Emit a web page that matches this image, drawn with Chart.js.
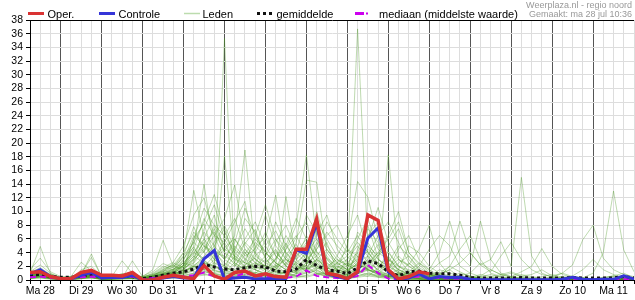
<!DOCTYPE html>
<html>
<head>
<meta charset="utf-8">
<script src="https://cdn.jsdelivr.net/npm/chart.js@4.4.1/dist/chart.umd.min.js"></script>
<style>
html, body { margin: 0; padding: 0; background: #fff; }
</style>
</head>
<body>
<canvas id="pluim" width="635" height="300"></canvas>
<script>
// 6-uurlijkse neerslag (mm), eerste punt = ma 28 06:00
const dagen = ['Ma 28', 'Di 29', 'Wo 30', 'Do 31', 'Vr 1', 'Za 2', 'Zo 3', 'Ma 4', 'Di 5', 'Wo 6', 'Do 7', 'Vr 8', 'Za 9', 'Zo 10', 'Ma 11'];
const startUur = 6;
const stapUur = 6;

const oper = [1.1, 1.2, 0.5, 0.2, 0.2, 1.1, 1.4, 0.7, 0.7, 0.6, 1.1, 0, 0, 0.4, 0.7, 0.4, 0.2, 2.1, 0.6, 0.1,
  1.1, 1.3, 0.6, 0.9, 0.5, 0.4, 4.5, 4.5, 8.9, 1.0, 0.7, 0.2, 1.2, 9.5, 8.7, 1.5, 0.15, 0.5, 1.2, 0.9];

const controle = [0.9, 1.5, 0.5, 0.2, 0.2, 0.7, 1.1, 0.3, 0.4, 0.35, 0.7, 0, 0.1, 0.3, 0.5, 0.3, 0.3, 3.1, 4.3, 0.1,
  0.3, 0.4, 0.15, 0.2, 0.15, 0.2, 4.4, 3.9, 8.3, 0.9, 0.5, 0.15, 1.1, 6.1, 7.6, 1.2, 0, 0.3, 0.9, 0.15,
  0.5, 0.35, 0.4, 0.1, 0.05, 0.05, 0.05, 0.05, 0.05, 0.05, 0.05, 0.05, 0.1, 0.4, 0.1, 0.05, 0.1, 0.1, 0.6, 0.15];

const gemiddelde = [0.7, 0.8, 0.5, 0.4, 0.4, 0.6, 0.8, 0.5, 0.4, 0.5, 0.5, 0.2, 0.4, 0.7, 1.0, 1.2, 1.6, 2.3, 1.9, 1.6,
  1.5, 1.8, 2.0, 1.9, 1.3, 1.2, 1.6, 3.0, 2.1, 1.5, 1.3, 0.9, 1.8, 2.8, 2.4, 1.2, 0.6, 1.2, 1.3, 1.0,
  0.9, 0.9, 0.7, 0.35, 0.3, 0.3, 0.3, 0.3, 0.35, 0.3, 0.3, 0.3, 0.3, 0.35, 0.3, 0.3, 0.3, 0.3, 0.5, 0.3];

const mediaan = [0.4, 0.5, 0.3, 0.2, 0.2, 0.4, 0.5, 0.3, 0.3, 0.4, 0.5, 0.1, 0.3, 0.4, 0.5, 0.5, 0.7, 1.1, 0.5, 0.2,
  0.5, 1.0, 0.6, 0.5, 0.3, 0.3, 0.5, 1.4, 0.6, 0.4, 0.3, 0.2, 0.6, 2.2, 1.0, 0.2, 0.1, 0.4, 0.5, 0.3,
  0.3, 0.2, 0.2, 0.05, 0.05, 0.05, 0.05, 0.05, 0.05, 0.05, 0.05, 0.05, 0.05, 0.05, 0.05, 0.05, 0.05, 0.05, 0.1, 0.05];

const leden = [
  [0.8,1.2,0.5, 0.2,0.1,0.6,0.9, 0.3,0.2,0.4,0.6, 0.1,0.3,0.8,1.2, 2.1,4.5,3.0,1.2, 35.3,2.0,4.1,1.5, 0.8,2.2,1.0,3.4, 5.2,2.1,0.6,1.8, 2.5,4.0,1.2,0.4, 0.6,1.1,0.3,0.2, 0.1,0,0.2,0.5, 0.1,0,0,0.3, 0.2,0,0,0.1, 0,0,0.2,0, 0,0.1,0,0.3, 0],
  [0.5,0.9,0.3, 0.1,0.2,0.9,3.3, 0.5,0.3,0.2,0.4, 0.2,0.6,1.5,2.2, 1.3,6.1,8.2,3.5, 1.0,2.6,5.3,7.4, 3.2,1.1,0.5,2.8, 6.5,4.2,1.5,0.8, 3.1,36.7,5.0,2.3, 1.4,0.8,0.5,0.3, 0.2,0.6,0.1,0, 0,0.2,0,0, 0.1,0,0,0.2, 0,0,0,0.1, 0,0,0.2,0, 0],
  [1.2,2.2,1.0, 0.3,0.5,1.1,0.8, 0.2,0.6,0.9,0.5, 0.4,1.0,2.0,1.5, 3.5,7.8,4.0,2.5, 18.1,3.0,1.8,0.9, 2.5,4.3,2.0,1.2, 3.8,1.5,0.7,2.0, 1.5,2.8,4.2,2.0, 18.3,3.1,1.2,0.5, 0.3,0.8,1.5,0.4, 0.1,0,0.3,0, 0,0.2,0.1,0, 0,0.1,0,0, 0,0,0,0.2, 0],
  [0.6,1.0,0.4, 0.2,0.3,0.7,1.0, 0.4,0.5,0.3,0.8, 0.3,0.5,0.8,0.6, 1.5,3.2,5.5,7.0, 4.2,6.5,19.0,4.0, 1.5,3.2,5.4,2.3, 1.2,3.0,2.1,0.6, 1.0,1.8,3.0,5.2, 2.4,1.0,0.6,0.8, 0.4,0.2,0,0.1, 0,0,0.1,0, 0.3,0,0,0, 0.1,0,0,0, 0,0,0,0, 0],
  [1.5,3.2,1.2, 0.5,0.4,0.8,0.5, 0.2,0.3,0.5,0.3, 0.6,1.2,2.4,1.8, 4.0,13.1,6.2,2.0, 1.5,5.0,3.1,2.2, 6.0,12.4,3.5,1.0, 2.2,5.5,3.1,1.2, 2.5,1.0,0.5,1.8, 3.5,1.2,0.4,0.2, 0.5,0.2,0.1,0, 0.3,0.1,0,0, 0,0.4,0,0, 0,0,0.1,0, 0.2,0,0,0, 0],
  [0.9,1.6,0.7, 0.2,0.1,1.5,2.0, 0.6,0.4,0.8,1.2, 0.2,0.4,1.0,0.9, 2.2,5.0,14.0,4.5, 2.0,1.2,3.8,6.0, 4.2,2.0,12.2,3.0, 1.5,2.5,1.0,0.5, 0.8,4.5,8.0,3.2, 1.2,0.6,2.5,1.3, 0.8,0.3,0.2,0, 0.1,0,0,0.2, 0,0,0.2,0, 0,0,0,0, 0.1,0,0,0, 0],
  [0.4,0.7,0.3, 0.1,0.2,0.4,0.6, 0.3,0.2,0.4,0.3, 0.5,0.8,1.2,2.5, 1.8,2.5,4.2,6.5, 9.0,13.9,5.2,3.0, 2.0,1.5,4.5,8.0, 18.3,6.0,2.5,1.5, 2.0,3.5,1.5,0.8, 0.5,1.0,0.4,0.2, 0.1,0,0,0.3, 0.5,0.2,0,0, 0,0,0.1,0, 0,0,0,0.1, 0,0,0,0, 0],
  [0.7,1.1,0.6, 0.3,0.2,0.5,0.8, 0.1,0.2,0.6,0.9, 0.2,0.3,0.6,1.0, 2.6,4.0,3.1,5.0, 7.5,3.2,2.0,4.8, 6.2,3.5,2.2,5.5, 14.6,14.3,4.0,2.2, 3.0,5.0,2.5,1.5, 4.2,2.0,1.0,0.5, 0.2,0.1,0,0, 0,0,0,0, 0.2,0.1,0,0, 0,0,0,0, 0,0,0.1,0.3, 0],
  [0.3,0.6,0.2, 0.1,0.3,1.0,1.2, 0.4,0.5,2.8,1.0, 0.3,0.5,0.8,1.1, 1.0,2.5,6.0,9.5, 4.0,2.2,1.5,3.5, 5.0,7.2,4.0,2.0, 3.0,1.2,0.8,1.5, 5.2,14.4,12.1,6.0, 2.5,1.5,0.8,0.4, 0.3,0.1,0,0, 0,0.1,0,0, 0,0,0,0, 0,0,0,0, 0,0,0,0, 0],
  [0.5,0.8,0.4, 0.2,0.1,0.3,0.5, 0.2,0.1,0.3,2.8, 0.5,0.7,1.3,1.6, 2.0,3.0,7.5,11.0, 6.0,3.5,2.5,2.0, 1.5,3.0,6.5,4.0, 2.5,3.5,5.5,1.2, 1.8,3.2,6.0,10.6, 5.5,3.0,2.2,4.5, 8.0,2.5,0.6,0.2, 0.1,0,0,0, 0,0,0,0, 0,0,0.1,0, 0,0,0,0, 0],
  [0.6,0.9,0.5, 0.3,0.2,0.6,0.7, 0.3,0.3,0.5,0.6, 0.1,0.2,0.5,0.9, 1.2,2.0,3.5,5.5, 8.0,4.5,3.0,1.5, 0.8,1.5,3.5,6.2, 8.5,4.0,3.2,2.0, 1.2,2.5,3.5,2.0, 1.5,4.5,6.5,3.0, 1.5,4.0,8.6,3.5, 2.0,8.6,3.0,1.0, 0.5,0.2,0,0, 0.1,0,0,0, 0,0,0,0, 0],
  [0.2,0.5,0.3, 0.1,0.2,0.3,0.5, 0.2,0.3,0.2,0.4, 0.5,1.5,5.8,2.0, 1.5,4.5,9.0,6.5, 5.5,8.5,11.5,3.5, 2.5,4.0,2.5,1.5, 2.2,6.8,9.5,4.5, 2.5,1.8,2.2,4.0, 6.0,8.5,4.0,2.5, 1.2,2.5,3.5,8.6, 4.0,2.2,3.0,5.6, 2.0,15.0,3.5,1.0, 0.4,0.2,0.5,0.3, 0.2,0.1,0,0, 0],
  [0.8,1.3,0.6, 0.2,0.3,0.8,3.8, 0.4,0.3,0.7,0.5, 0.2,0.4,0.9,1.4, 3.0,5.5,4.0,8.0, 6.5,4.0,9.0,7.0, 3.0,1.8,1.0,2.5, 4.0,8.8,6.0,3.5, 2.0,6.0,9.0,4.5, 3.2,1.5,1.0,0.8, 0.5,1.5,1.0,0.6, 0.4,0.3,0.5,0.8, 1.2,0.6,0.8,1.5, 0.6,1.0,2.2,5.9, 8.0,3.2,1.5,0.8, 0.5],
  [0.4,0.6,0.4, 0.2,0.1,0.2,0.4, 0.1,0.2,0.4,0.5, 0.3,0.6,0.8,1.2, 1.5,2.8,5.0,3.5, 4.8,6.0,3.5,4.5, 9.5,5.0,3.0,2.0, 1.5,4.5,6.5,8.0, 4.5,2.5,1.5,1.2, 2.5,5.0,3.5,1.8, 1.0,0.8,0.5,0.3, 0.2,0.5,0.8,0.4, 0.2,0.3,0.2,0.5, 0.8,0.4,0.2,0.3, 1.0,4.0,13.0,4.4, 1.2],
  [0.6,1.0,0.5, 0.3,0.2,0.5,0.6, 0.2,0.2,0.4,0.3, 0.2,0.3,0.7,1.0, 2.0,6.0,10.5,8.0, 5.0,3.0,2.5,6.5, 11.0,6.0,3.0,1.5, 2.0,3.0,1.8,1.0, 1.5,7.0,5.5,3.0, 2.0,1.2,0.8,2.0, 4.5,6.5,5.0,2.0, 1.0,2.5,1.5,0.8, 0.5,1.2,2.0,4.6, 2.0,0.8,0.4,0.2, 0.2,0.4,0.6,1.0, 0.3],
  [0.9,1.4,0.8, 0.4,0.5,2.6,1.3, 0.5,0.6,0.8,0.7, 0.3,0.8,1.6,2.2, 4.0,7.0,5.0,3.0, 2.0,4.5,7.5,5.0, 3.5,8.5,5.0,3.0, 4.5,2.5,1.5,3.5, 6.5,9.5,4.0,2.0, 1.0,2.5,3.5,1.5, 0.8,0.5,0.3,0.6, 1.0,0.5,0.3,0.2, 0.4,0.8,0.5,0.3, 0.2,0.5,0.3,0.2, 0.1,0.3,0.5,0.2, 0.1],
  [0.3,0.4,0.2, 0.1,0,0.2,0.3, 0.1,0.1,0.2,0.2, 0.1,0.2,0.5,0.6, 0.8,1.5,2.0,3.5, 5.5,2.5,1.5,0.8, 0.6,1.2,2.5,4.0, 6.0,3.5,1.2,0.6, 0.8,1.5,2.8,1.5, 0.8,0.4,0.3,0.2, 0.1,0.2,0.4,0.2, 0.1,0,0,0.1, 0,0.2,0,0, 0,0.1,0,0, 0,0,0.1,0, 0],
  [1.0,4.9,0.9, 0.3,0.4,1.2,1.5, 0.6,0.5,0.9,0.8, 0.4,0.9,1.8,2.6, 5.0,9.5,12.0,6.5, 3.0,2.0,4.5,3.0, 2.0,1.5,3.2,5.2, 3.0,7.5,4.5,2.5, 1.5,2.2,6.5,8.5, 4.0,2.0,1.2,0.8, 0.4,0.3,0.2,0.1, 0,0.1,0.2,0, 0,0,0.1,0, 0.2,0.3,0.1,0, 0,0,0,0.2, 0],
  [0.5,0.8,0.4, 0.2,0.3,0.4,0.6, 0.3,0.4,0.4,0.6, 0.2,0.4,0.6,0.8, 1.0,2.2,3.0,4.5, 3.0,5.5,10.5,6.5, 4.0,2.5,1.5,1.0, 3.2,10.0,5.0,3.0, 2.0,3.0,5.0,3.5, 6.5,10.0,4.0,2.2, 1.0,0.6,0.3,0.2, 0.3,0.1,0,0, 0,0,0,0.1, 0,0,0,0, 0.1,0,0,0, 0],
  [0.7,1.2,0.5, 0.3,0.2,0.7,0.9, 0.4,0.3,0.5,0.4, 0.2,0.6,1.2,1.9, 3.2,4.8,2.5,1.5, 6.5,9.0,4.5,2.5, 1.5,5.5,8.0,4.5, 3.0,4.5,7.0,5.0, 3.5,5.5,3.5,1.2, 0.8,1.5,5.0,4.0, 2.0,1.0,0.6,0.3, 0.1,0.2,0.1,0, 0,0,0.3,0.2, 0,0,0,0.1, 0,0,0,0, 0],
  [0.2,0.3,0.1, 0,0.1,0.3,0.4, 0.1,0.2,0.2,0.3, 0.1,0.2,0.4,0.5, 0.6,1.0,1.5,2.5, 1.8,1.2,2.2,3.2, 1.5,0.8,1.2,2.0, 1.5,2.8,1.5,0.8, 0.5,1.2,2.0,1.0, 0.6,0.3,0.2,0.1, 0,0,0.1,0, 0,0,0,0, 0,0,0,0, 0,0,0,0, 0,0,0,0, 0],
  [1.1,1.8,0.8, 0.4,0.3,0.8,1.0, 0.3,0.4,0.6,0.5, 0.3,0.7,1.4,2.0, 3.5,5.5,8.5,12.5, 7.0,4.0,2.5,1.8, 3.0,4.5,2.0,1.2, 2.5,5.0,8.5,6.0, 4.0,6.5,4.0,2.5, 1.8,3.0,2.0,1.2, 0.8,0.5,2.0,4.5, 6.5,3.0,1.0,0.5, 0.3,0.2,0.1,0, 0,0.2,0.5,0.3, 0.1,0,0,0, 0],
  [0.6,0.8,0.5, 0.2,0.2,0.4,0.5, 0.2,0.3,0.3,0.4, 0.2,0.5,0.9,1.3, 2.5,4.0,6.0,4.0, 3.5,2.5,1.5,4.0, 7.0,3.5,2.0,4.0, 9.5,7.0,3.0,1.5, 1.0,4.0,7.5,5.5, 3.0,1.5,0.8,0.5, 0.3,0.2,0.2,0.1, 0.2,0.6,1.5,0.8, 0.4,0.2,0.1,0, 0,0,0.1,0, 0,0.2,0.3,0.1, 0],
  [0.3,0.5,0.3, 0.1,0.2,0.3,0.3, 0.1,0.2,0.3,0.2, 0.3,0.4,0.6,0.9, 1.5,3.0,4.5,7.5, 4.0,3.0,5.5,4.0, 2.5,1.8,4.5,6.5, 3.5,2.0,1.5,2.5, 4.5,3.5,2.0,1.0, 0.6,0.4,1.2,2.5, 1.5,0.6,0.3,0.2, 0.1,0,0.2,0.1, 0,0,0,0, 0.1,0,0,0, 0,0,0,0.1, 0],
  [0.8,1.5,0.7, 0.3,0.4,0.9,1.2, 0.5,0.4,0.7,1.0, 0.4,0.6,1.1,1.5, 2.8,6.5,5.0,4.0, 2.5,1.5,3.0,5.5, 4.0,2.5,1.5,3.5, 5.5,3.5,2.0,3.0, 2.2,1.2,3.5,6.5, 8.5,5.5,2.5,1.0, 0.6,0.3,0.2,0.1, 0,0,0.1,0, 0,0,0,0, 0,0,0,0, 0,0.1,0.2,0.4, 0.2],
  [0.4,0.6,0.3, 0.2,0.1,0.5,0.7, 0.2,0.3,0.4,0.5, 0.2,0.3,0.7,1.1, 1.8,3.5,5.5,3.0, 2.0,1.2,0.8,2.0, 3.5,6.0,4.0,2.5, 2.0,1.0,0.8,2.5, 3.5,2.0,1.5,1.0, 2.0,3.5,2.0,1.0, 0.6,0.8,1.5,2.5, 4.0,2.2,1.2,3.5, 5.5,3.0,1.5,0.8, 0.5,0.3,0.6,1.5, 3.0,1.5,0.8,0.4, 0.2],
  [0.7,1.0,0.5, 0.2,0.3,0.6,0.8, 0.3,0.2,0.5,0.6, 0.3,0.5,0.8,1.2, 2.2,3.8,7.0,5.0, 3.0,6.0,4.0,2.5, 1.5,3.0,5.0,9.0, 6.0,3.0,1.8,1.2, 0.8,1.5,2.5,4.0, 3.0,2.0,1.5,1.0, 0.5,1.0,2.0,1.2, 0.5,0.3,0.2,0.1, 0.2,0.5,0.3,0.2, 0.4,1.0,0.5,0.3, 0.2,0.1,0,0, 0],
  [0.5,0.7,0.4, 0.2,0.2,0.5,0.7, 0.3,0.3,0.4,0.4, 0.3,0.5,1.0,1.6, 2.5,2.0,1.5,3.0, 4.5,3.5,2.0,1.5, 1.0,2.0,3.0,2.2, 4.0,6.0,3.5,1.5, 1.2,2.5,4.5,3.0, 2.0,1.0,0.6,0.4, 0.3,0.2,0.5,1.0, 0.6,0.3,0.2,0.6, 1.0,0.5,0.2,0.1, 0,0.2,0.4,0.2, 0.1,0.3,0.6,0.3, 0.1],
  [0.9,1.3,0.6, 0.3,0.3,0.6,0.9, 0.4,0.4,0.6,0.7, 0.2,0.6,1.0,1.4, 2.0,3.5,2.5,2.0, 1.5,3.5,6.0,8.5, 5.0,2.5,1.5,1.0, 1.8,3.0,4.5,2.5, 1.5,1.0,2.0,3.5, 5.0,7.5,3.0,1.5, 0.8,0.5,0.3,0.2, 0.4,0.8,0.5,0.2, 0.1,0,0,0.2, 0.4,0.2,0,0, 0,0,0,0, 0],
  [0.4,0.5,0.3, 0.1,0.2,0.3,0.5, 0.2,0.2,0.3,0.3, 0.2,0.3,0.5,0.8, 1.2,2.0,2.8,2.0, 1.5,1.0,1.8,2.5, 2.0,1.2,0.8,1.5, 2.5,1.8,1.0,0.6, 0.5,1.0,1.8,1.2, 0.8,0.5,0.3,0.2, 0.1,0,0,0, 0.1,0.2,0.1,0, 0,0,0,0, 0,0,0,0, 0,0,0,0, 0],
  [0.3,0.5,0.2, 0.1,0.1,0.3,0.4, 0.1,0.1,0.2,0.2, 0,0.1,0.3,0.4, 0.5,0.8,1.2,0.9, 0.6,0.4,0.8,1.1, 0.7,0.5,0.3,0.6, 1.0,1.4,0.8,0.4, 0.3,0.6,1.0,0.7, 0.4,0.3,0.2,0.1, 0,0,0,0, 0,0,0,0, 0,0,0,0, 0,0,0,0, 0,0,0,0, 0],
  [0.5,0.7,0.4, 0.2,0.2,0.4,0.6, 0.2,0.2,0.3,0.4, 0.1,0.2,0.4,0.6, 0.9,1.3,0.8,0.5, 0.3,0.6,1.2,0.9, 0.5,0.3,0.7,1.3, 1.8,1.0,0.6,0.3, 0.5,0.9,1.5,1.1, 0.6,0.4,0.3,0.5, 0.3,0.2,0.1,0, 0,0.1,0,0, 0,0,0,0, 0.1,0,0,0, 0,0,0,0.1, 0],
  [0.2,0.3,0.2, 0,0,0.2,0.3, 0.1,0,0.1,0.2, 0,0,0.2,0.3, 0.4,0.6,0.9,1.5, 1.0,0.7,0.5,0.4, 0.3,0.8,1.1,0.6, 0.4,0.8,1.2,0.9, 0.6,1.3,0.8,0.5, 0.3,0.2,0.1,0, 0,0,0,0, 0,0,0,0, 0,0,0,0, 0,0,0,0, 0,0,0,0, 0],
  [0.9,1.1,0.6, 0.3,0.2,0.5,0.9, 0.4,0.3,0.4,0.6, 0.1,0.3,0.5,0.8, 1.0,1.6,2.2,1.4, 0.8,1.1,1.6,2.0, 1.2,0.6,0.4,0.9, 1.5,2.2,1.4,0.8, 0.5,1.0,1.7,2.5, 1.3,0.7,0.5,0.8, 0.6,0.4,0.2,0.1, 0,0,0.1,0.2, 0.1,0,0,0, 0,0,0,0, 0,0,0,0, 0],
  [0.4,0.6,0.3, 0.1,0.1,0.3,0.5, 0.2,0.2,0.3,0.3, 0.1,0.2,0.3,0.5, 0.7,1.0,1.3,1.0, 0.7,0.5,0.6,0.8, 0.5,0.4,0.6,0.9, 1.2,0.9,0.5,0.3, 0.2,0.5,0.9,0.6, 0.4,0.2,0.1,0.2, 0.1,0,0,0, 0,0,0,0, 0,0,0,0, 0,0,0,0, 0,0,0,0, 0],
  [0.6,0.9,0.5, 0.2,0.3,0.6,0.7, 0.3,0.3,0.5,0.5, 0.2,0.3,0.6,0.9, 1.4,2.0,1.5,0.9, 0.5,0.9,1.4,1.1, 0.8,1.3,0.9,0.5, 0.7,1.6,2.4,1.2, 0.7,1.1,1.4,0.9, 0.5,0.8,1.0,0.6, 0.3,0.2,0.1,0.1, 0,0,0,0, 0,0.1,0,0, 0,0,0,0, 0,0,0,0, 0],
  [0.3,0.4,0.2, 0.1,0.2,0.5,0.6, 0.2,0.1,0.2,0.3, 0,0.1,0.2,0.3, 0.3,0.5,0.7,1.1, 1.4,0.9,0.6,0.4, 0.2,0.4,0.5,0.3, 0.6,0.9,0.6,0.3, 0.2,0.4,0.6,0.4, 0.2,0.1,0.1,0.1, 0,0,0,0, 0,0,0,0, 0,0,0,0, 0,0,0,0, 0,0,0,0, 0],
  [0.7,1.0,0.6, 0.3,0.3,0.7,1.0, 0.4,0.3,0.5,0.7, 0.2,0.4,0.7,1.0, 1.2,1.8,2.6,1.9, 1.2,0.8,1.0,1.6, 2.2,1.5,0.9,0.6, 1.1,1.8,1.3,0.9, 1.4,2.3,1.6,0.8, 0.5,0.6,0.9,0.7, 0.4,0.3,0.2,0.1, 0.1,0,0,0, 0,0,0,0, 0,0,0,0, 0,0,0,0, 0]
];

const kleurOper = '#d93333';
const kleurControle = '#3535d8';
const kleurMediaan = '#cc00ee';
const kleurLeden = 'rgba(70,150,30,0.35)';
const lettertype = '"Liberation Sans", Arial, sans-serif';

const punten = arr => arr.map((v, i) => ({ x: startUur + i * stapUur, y: v }));

const datasets = [
  { label: 'Oper.', data: punten(oper), borderColor: kleurOper, borderWidth: 3.5, order: 0 },
  { label: 'Controle', data: punten(controle), borderColor: kleurControle, borderWidth: 3, order: 1 },
  { label: 'mediaan', data: punten(mediaan), borderColor: kleurMediaan, borderWidth: 2, borderDash: [6, 4], order: 2 },
  { label: 'gemiddelde', data: punten(gemiddelde), borderColor: '#111', borderWidth: 3, borderDash: [3, 3], order: 3 }
];
leden.forEach((lid, n) => {
  datasets.push({ label: 'Lid ' + (n + 1), data: punten(lid), borderColor: kleurLeden, borderWidth: 1, order: 10 });
});

// legenda en kop zelf tekenen, zoals op weerplaza
const legendaPlugin = {
  id: 'legenda',
  afterDraw(chart) {
    const c = chart.ctx;
    c.save();
    const y = 13.5;
    const lijn = (x1, x2, kleur, breedte, dash) => {
      c.strokeStyle = kleur;
      c.lineWidth = breedte;
      c.setLineDash(dash || []);
      c.beginPath();
      c.moveTo(x1, y);
      c.lineTo(x2, y);
      c.stroke();
    };
    lijn(28, 44, kleurOper, 3);
    lijn(99, 115, kleurControle, 3);
    lijn(184, 200, '#bcdcae', 1.5);
    lijn(257, 272, '#111', 3, [3, 3]);
    lijn(355, 364, kleurMediaan, 3);
    lijn(366, 368, kleurMediaan, 2);
    c.setLineDash([]);
    c.font = '11px ' + lettertype;
    c.fillStyle = '#000';
    c.textBaseline = 'alphabetic';
    c.fillText('Oper.', 47.5, 17.5);
    c.fillText('Controle', 118.5, 17.5);
    c.fillText('Leden', 202.5, 17.5);
    c.fillText('gemiddelde', 276.5, 17.5);
    c.fillText('mediaan (middelste waarde)', 379, 17.5);
    c.font = '9px ' + lettertype;
    c.fillStyle = '#999';
    c.textAlign = 'right';
    c.fillText('Weerplaza.nl - regio noord', 632, 7.5);
    c.fillText('Gemaakt: ma 28 jul 10:36', 632, 17);
    c.restore();
  }
};

new Chart(document.getElementById('pluim'), {
  type: 'line',
  data: { datasets },
  options: {
    responsive: false,
    animation: false,
    layout: { padding: { top: 20, right: 1, bottom: 0, left: 0 } },
    elements: { point: { radius: 0 }, line: { tension: 0 } },
    plugins: { legend: { display: false }, tooltip: { enabled: false } },
    scales: {
      x: {
        type: 'linear',
        min: startUur,
        max: startUur + 59 * stapUur,
        afterFit: s => { s.height = 20; },
        border: { color: '#000', width: 1 },
        grid: {
          color: ctx => (ctx.tick && ctx.tick.value % 24 === 0 && ctx.tick.value < 360) ? '#555' : '#ddd',
          tickColor: '#000',
          tickLength: 4,
          lineWidth: 1
        },
        ticks: {
          stepSize: stapUur,
          autoSkip: false,
          maxRotation: 0,
          minRotation: 0,
          padding: 1,
          color: '#000',
          font: { family: lettertype, size: 10.5 },
          callback: v => (v % 24 === 12 ? dagen[Math.floor(v / 24)] : '')
        }
      },
      y: {
        min: 0,
        max: 38,
        afterFit: s => { s.width = 30; },
        border: { color: '#000', width: 1 },
        grid: {
          color: ctx => (ctx.tick && ctx.tick.value === 38) ? '#000' : '#ddd',
          tickColor: '#000',
          tickLength: 4,
          lineWidth: 1
        },
        ticks: {
          stepSize: 2,
          autoSkip: false,
          padding: 3,
          color: '#000',
          font: { family: lettertype, size: 10.5 }
        }
      }
    }
  },
  plugins: [legendaPlugin]
});
</script>
</body>
</html>
